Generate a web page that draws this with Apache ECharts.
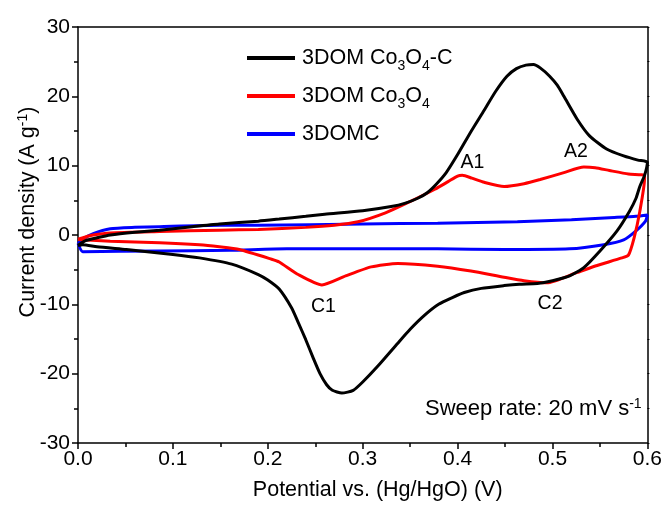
<!DOCTYPE html>
<html><head><meta charset="utf-8">
<script src="https://cdn.jsdelivr.net/npm/echarts@6/dist/echarts.min.js"></script>
<style>html,body{margin:0;padding:0;background:#fff}#c{width:665px;height:506px}</style>
</head><body><div id="c"></div>
<script>
// ---- data (potential V, current density A/g), each a closed CV loop ----
const seriesNames = ['3DOM Co3O4-C', '3DOM Co3O4', '3DOMC'];
const seriesLabels = ['3DOM Co{sub|3}O{sub|4}-C', '3DOM Co{sub|3}O{sub|4}', '3DOMC'];
const seriesColors = ['#000000', '#ff0000', '#0000ff'];

const vBlack = [0.000,0.008,0.020,0.034,0.060,0.086,0.120,0.149,0.190,0.212,0.240,0.260,0.300,0.330,0.345,0.358,0.368,0.378,0.388,0.400,0.414,0.428,0.440,0.452,0.462,0.472,0.480,0.487,0.497,0.505,0.512,0.526,0.539,0.557,0.575,0.590,0.600,
  0.597,0.592,0.588,0.581,0.568,0.550,0.533,0.518,0.500,0.484,0.465,0.449,0.425,0.407,0.395,0.380,0.365,0.350,0.337,0.316,0.300,0.290,0.278,0.268,0.262,0.255,0.248,0.240,0.232,0.225,0.212,0.200,0.190,0.162,0.128,0.100,0.051,0.020,0.005,0.000];
const iBlack = [-1.5,-0.8,-0.4,0.0,0.4,0.7,1.2,1.6,2.0,2.3,2.7,3.0,3.5,4.1,4.6,5.3,6.1,7.4,9.0,11.6,14.9,18.0,20.7,22.9,24.0,24.5,24.6,24.1,22.9,21.6,20.0,16.7,14.3,12.4,11.4,10.8,10.5,
  8.6,7.0,5.3,3.4,0.6,-2.3,-4.7,-5.9,-6.6,-7.0,-7.1,-7.3,-7.7,-8.3,-9.0,-10.0,-11.6,-13.6,-15.6,-18.9,-21.2,-22.4,-22.8,-22.4,-21.6,-20.0,-17.8,-15.1,-12.6,-10.5,-7.8,-6.5,-5.7,-4.2,-3.3,-2.8,-2.1,-1.7,-1.4,-1.5];

const vRed = [0.000,0.007,0.016,0.034,0.086,0.149,0.190,0.240,0.270,0.295,0.324,0.348,0.376,0.390,0.400,0.405,0.415,0.428,0.449,0.470,0.487,0.512,0.533,0.545,0.560,0.580,0.597,
  0.597,0.592,0.586,0.580,0.573,0.547,0.526,0.494,0.470,0.449,0.414,0.379,0.337,0.309,0.282,0.257,0.232,0.212,0.204,0.170,0.149,0.128,0.086,0.034,0.005,0.000];
const iRed = [-0.6,-0.3,0.0,0.3,0.5,0.7,0.8,1.1,1.4,1.9,3.2,4.7,6.6,7.7,8.5,8.6,8.2,7.6,7.0,7.4,8.0,9.0,9.8,9.7,9.3,8.8,8.6,
  8.1,3.4,-0.4,-2.9,-3.3,-4.4,-5.4,-6.9,-6.6,-6.1,-5.2,-4.5,-4.1,-4.6,-5.9,-7.2,-5.7,-3.9,-3.5,-2.1,-1.7,-1.4,-1.1,-0.9,-0.7,-0.6];

const vBlue = [0.000,0.005,0.016,0.034,0.060,0.086,0.149,0.190,0.300,0.379,0.463,0.520,0.560,0.588,0.600,
  0.598,0.588,0.575,0.554,0.518,0.449,0.379,0.300,0.220,0.160,0.083,0.005,0.000];
const iBlue = [-1.2,-0.6,0.2,0.9,1.1,1.2,1.4,1.4,1.6,1.7,1.9,2.2,2.5,2.7,2.9,
  2.0,0.6,-0.7,-1.4,-2.0,-2.1,-2.0,-2.0,-2.0,-2.2,-2.3,-2.4,-1.2];

const xTickValues = [0.0, 0.1, 0.2, 0.3, 0.4, 0.5, 0.6];
const yTickValues = [-30, -20, -10, 0, 10, 20, 30];

const annotationTexts = ['A1', 'A2', 'C1', 'C2'];
const annotationV = [0.4157, 0.5246, 0.2586, 0.4974];
const annotationI = [10.4, 12.0, -10.3, -9.9];

const sweepText = '{t|Sweep rate: 20 mV s}{sup|-1}';
const xTitle = 'Potential vs. (Hg/HgO) (V)';
const yTitle = '{t|Current density (A g}{sup|-1}{t|)}';

// ---- build ----
const zip = (a, b) => a.map((v, k) => [v, b[k]]);
const loops = [zip(vBlack, iBlack), zip(vRed, iRed), zip(vBlue, iBlue)];
const FONT = 'Liberation Sans, Arial, sans-serif';
const FS = 21;
const FST = 21.5;

const chart = echarts.init(document.getElementById('c'), null, {renderer: 'canvas'});

const lineSeries = loops.map((d, k) => ({
  name: seriesNames[k],
  type: 'line',
  data: d,
  showSymbol: false,
  smooth: 0.2,
  clip: true,
  color: seriesColors[k],
  lineStyle: {width: 3, color: seriesColors[k]},
  z: 3 - k + 2
}));

const annotationSeries = {
  type: 'scatter',
  data: annotationTexts.map((t, k) => ({name: t, value: [annotationV[k], annotationI[k]]})),
  symbolSize: 0,
  silent: true,
  itemStyle: {opacity: 1},
  label: {show: true, position: 'inside', formatter: p => p.name, color: '#000', opacity: 1, textBorderWidth: 0, fontSize: 19.5, fontFamily: FONT},
  z: 10
};

const option = {
  animation: false,
  backgroundColor: '#fff',
  grid: {left: 78, right: 14, top: 27, bottom: 59, containLabel: false},
  legend: {
    data: seriesNames,
    orient: 'vertical',
    left: 247, top: 46,
    itemWidth: 48, itemHeight: 4, itemGap: 11,
    icon: 'rect',
    padding: 0,
    formatter: name => seriesLabels[seriesNames.indexOf(name)],
    textStyle: {
      fontSize: FST, fontFamily: FONT, color: '#000', lineHeight: 24, padding: [0, 0, 0, 2],
      rich: {sub: {fontSize: 14, fontFamily: FONT, color: '#000', verticalAlign: 'bottom', lineHeight: 14, padding: [0, 0, -3, 0]}}
    }
  },
  xAxis: [{
    type: 'value', min: 0, max: 0.6, interval: 0.1,
    name: xTitle, nameLocation: 'middle', nameGap: 36, nameMoveOverlap: false,
    nameTextStyle: {fontSize: FST, fontFamily: FONT, color: '#000', padding: [0, 0, 0, 30]},
    axisLine: {show: true, onZero: false, lineStyle: {color: '#000', width: 1.5}},
    axisTick: {show: true, inside: false, length: 6, lineStyle: {color: '#000', width: 1.5}},
    minorTick: {show: true, splitNumber: 2, length: 4, lineStyle: {color: '#000', width: 1.5}},
    axisLabel: {fontSize: FS, fontFamily: FONT, color: '#000', margin: 6, formatter: v => xTickValues.includes(+v.toFixed(1)) ? v.toFixed(1) : ''},
    splitLine: {show: false}
  }, {
    type: 'value', min: 0, max: 0.6, position: 'top',
    axisLine: {show: true, onZero: false, lineStyle: {color: '#000', width: 1.5}},
    axisTick: {show: false}, axisLabel: {show: false}, splitLine: {show: false}
  }],
  yAxis: [{
    type: 'value', min: -30, max: 30, interval: 10,
    name: yTitle, nameLocation: 'middle', nameGap: 38, nameRotate: 90, nameMoveOverlap: false,
    nameTextStyle: {
      fontSize: FST, fontFamily: FONT, color: '#000', padding: [0, 0, 0, 46],
      rich: {
        t: {fontSize: FST, fontFamily: FONT, color: '#000', lineHeight: 24},
        sup: {fontSize: 14, fontFamily: FONT, color: '#000', verticalAlign: 'top', lineHeight: 14}
      }
    },
    axisLine: {show: true, onZero: false, lineStyle: {color: '#000', width: 1.5}},
    axisTick: {show: true, inside: false, length: 6, lineStyle: {color: '#000', width: 1.5}},
    minorTick: {show: true, splitNumber: 2, length: 4, lineStyle: {color: '#000', width: 1.5}},
    axisLabel: {fontSize: FS, fontFamily: FONT, color: '#000', margin: 8, formatter: v => yTickValues.includes(v) ? String(v) : ''},
    splitLine: {show: false}
  }, {
    type: 'value', min: -30, max: 30, interval: 5, position: 'right',
    axisLine: {show: true, onZero: false, lineStyle: {color: '#000', width: 1.5}},
    axisTick: {show: true, inside: false, length: 2, lineStyle: {color: '#000', width: 1}},
    axisLabel: {show: false}, splitLine: {show: false}
  }],
  graphic: [{
    type: 'text', left: 425, top: 397, silent: true,
    style: {
      text: sweepText, fontSize: 22, fontFamily: FONT, fill: '#000',
      rich: {
        t: {fontSize: 22, fontFamily: FONT, fill: '#000', lineHeight: 24},
        sup: {fontSize: 14, fontFamily: FONT, fill: '#000', verticalAlign: 'top', lineHeight: 14}
      }
    }
  }],
  series: [...lineSeries, annotationSeries]
};
chart.setOption(option);
</script>
</body></html>
